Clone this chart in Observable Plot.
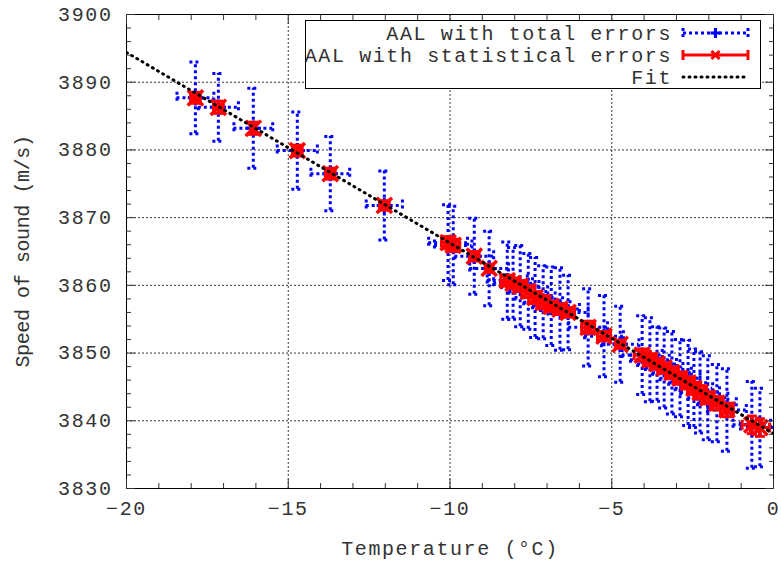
<!DOCTYPE html>
<html>
<head>
<meta charset="utf-8">
<script src="https://cdn.jsdelivr.net/npm/d3@7"></script>
<script src="https://cdn.jsdelivr.net/npm/@observablehq/plot@0.6"></script>
<style>
  html, body { margin: 0; padding: 0; background: #fff; }
  #wrap { position: relative; width: 781px; height: 562px; }
  #legend { position: absolute; left: 303px; top: 18px; overflow: visible; }
  g[aria-label="y-axis label"] text { letter-spacing: -0.4px; }
</style>
</head>
<body>
<div id="wrap"></div>
<script>
// ---- data ----
const temperature = [-17.87,-17.16,-16.08,-14.72,-13.70,-12.03,-10.06,-9.90,-9.25,-8.79,-8.23,-8.05,-7.83,-7.58,-7.37,-7.12,-6.87,-6.60,-6.35,-5.73,-5.24,-4.74,-4.06,-3.82,-3.60,-3.38,-3.14,-2.89,-2.64,-2.46,-2.27,-2.03,-1.75,-1.44,-0.67,-0.42];
const speed = [3887.7,3886.3,3883.2,3879.9,3876.5,3871.8,3866.3,3865.9,3864.3,3862.5,3860.7,3860.3,3859.9,3859.1,3858.2,3857.5,3856.9,3856.5,3856.0,3853.8,3852.5,3851.3,3849.7,3849.0,3848.4,3847.8,3847.1,3846.3,3845.6,3844.8,3844.2,3843.4,3842.6,3841.6,3839.4,3839.0];
const totalErrSpeed = [5.3,5.0,5.9,5.7,5.5,5.1,5.6,5.8,5.6,5.5,5.7,5.3,6.0,5.6,5.9,5.4,5.8,6.1,5.5,5.7,6.0,5.6,5.8,6.2,5.5,5.9,6.1,5.7,6.3,5.8,6.0,6.2,5.7,6.1,6.4,5.8];
const totalErrTemp = [0.57,0.62,0.6,0.62,0.6,0.56,0.6,0.58,0.6,0.6,0.62,0.6,0.58,0.6,0.62,0.6,0.58,0.6,0.62,0.6,0.6,0.58,0.62,0.6,0.6,0.58,0.6,0.62,0.6,0.58,0.6,0.62,0.6,0.6,0.58,0.6];
const statErrSpeed = [0.8,0.9,0.9,0.8,0.8,0.7,0.9,0.9,0.7,0.6,0.8,0.8,0.8,0.9,0.9,1.0,0.8,0.8,0.7,0.9,0.7,0.6,0.9,0.9,0.8,0.8,0.9,0.9,0.9,0.9,1.0,0.9,1.0,1.0,1.3,1.3];
const statErrTemp = [0.15,0.15,0.08,0.15,0.15,0.15,0.2,0.2,0.15,0.12,0.2,0.2,0.2,0.2,0.2,0.2,0.2,0.2,0.2,0.2,0.2,0.15,0.25,0.2,0.2,0.2,0.2,0.2,0.2,0.2,0.2,0.2,0.2,0.2,0.3,0.3];
const fitIntercept = 3838.1;   // speed at 0 °C
const fitSlope = -2.815;       // m/s per °C
const fitRange = [-20, 0];
const xTicks = [-20, -15, -10, -5, 0];
const yTicks = [3830, 3840, 3850, 3860, 3870, 3880, 3890, 3900];
const xMinor = d3.range(-20, 0.01, 1).filter(v => !xTicks.includes(v));
const yMinor = d3.range(3830, 3900.01, 2).filter(v => !yTicks.includes(v));
const legendLabels = ["AAL with total errors", "AAL with statistical errors", "Fit"];

// ---- build table ----
const data = temperature.map((t, i) => ({
  t, v: speed[i],
  ev: totalErrSpeed[i], et: totalErrTemp[i],
  sv: statErrSpeed[i], st: statErrTemp[i]
}));
const fit = fitRange.map(t => ({t, v: fitIntercept + fitSlope * t}));

const BLUE = "#0000ff", RED = "#ff0000";
const hcap = {draw(ctx, size) { const w = Math.sqrt(size / Math.PI); ctx.moveTo(-w, 0); ctx.lineTo(w, 0); }};
const vcap = {draw(ctx, size) { const w = Math.sqrt(size / Math.PI); ctx.moveTo(0, -w); ctx.lineTo(0, w); }};

const noText = () => "";
const chart = Plot.plot({
  width: 781, height: 562,
  marginLeft: 126, marginRight: 8, marginTop: 14, marginBottom: 74,
  style: {fontFamily: "'Liberation Mono', monospace", fontSize: "20px", color: "#333", background: "#fff", letterSpacing: "1.6px"},
  x: {domain: [-20, 0]},
  y: {domain: [3830, 3900]},
  marks: [
    Plot.gridX({ticks: xTicks.slice(1, -1), stroke: "#222", strokeOpacity: 0.9, strokeDasharray: "2,2"}),
    Plot.gridY({ticks: yTicks.slice(1, -1), stroke: "#222", strokeOpacity: 0.9, strokeDasharray: "2,2"}),
    // total errors (blue, dotted)
    Plot.ruleX(data, {x: "t", y1: d => d.v - d.ev, y2: d => d.v + d.ev, stroke: BLUE, strokeWidth: 3, strokeDasharray: "3,3", clip: true}),
    Plot.ruleY(data, {y: "v", x1: d => d.t - d.et, x2: d => d.t + d.et, stroke: BLUE, strokeWidth: 3, strokeDasharray: "3,3", clip: true}),
    Plot.dot(data, {x: "t", y: d => d.v - d.ev, symbol: hcap, r: 6, stroke: BLUE, strokeWidth: 3, strokeDasharray: "3,3", clip: true}),
    Plot.dot(data, {x: "t", y: d => d.v + d.ev, symbol: hcap, r: 6, stroke: BLUE, strokeWidth: 3, strokeDasharray: "3,3", clip: true}),
    Plot.dot(data, {x: d => d.t - d.et, y: "v", symbol: vcap, r: 6, stroke: BLUE, strokeWidth: 3, strokeDasharray: "3,3", clip: true}),
    Plot.dot(data, {x: d => d.t + d.et, y: "v", symbol: vcap, r: 6, stroke: BLUE, strokeWidth: 3, strokeDasharray: "3,3", clip: true}),
    Plot.dot(data, {x: "t", y: "v", symbol: "plus", r: 5, stroke: BLUE, strokeWidth: 3}),
    // statistical errors (red, solid)
    Plot.ruleX(data, {x: "t", y1: d => d.v - d.sv, y2: d => d.v + d.sv, stroke: RED, strokeWidth: 3}),
    Plot.ruleY(data, {y: "v", x1: d => d.t - d.st, x2: d => d.t + d.st, stroke: RED, strokeWidth: 3}),
    Plot.dot(data, {x: "t", y: d => d.v - d.sv, symbol: hcap, r: 5, stroke: RED, strokeWidth: 3}),
    Plot.dot(data, {x: "t", y: d => d.v + d.sv, symbol: hcap, r: 5, stroke: RED, strokeWidth: 3}),
    Plot.dot(data, {x: d => d.t - d.st, y: "v", symbol: vcap, r: 5, stroke: RED, strokeWidth: 3}),
    Plot.dot(data, {x: d => d.t + d.st, y: "v", symbol: vcap, r: 5, stroke: RED, strokeWidth: 3}),
    Plot.dot(data, {x: "t", y: "v", symbol: "times", r: 7, stroke: RED, strokeWidth: 3.5}),
    // fit
    Plot.line(fit, {x: "t", y: "v", stroke: "#000", strokeWidth: 3, strokeDasharray: "1,5", strokeLinecap: "round", clip: true}),
    Plot.frame({stroke: "#000", strokeWidth: 1}),
    // ticks (inward, mirrored)
    Plot.axisX({anchor: "bottom", ticks: xTicks, tickSize: 0, tickPadding: 12, label: "Temperature (°C)", labelAnchor: "center", labelOffset: 66, labelArrow: "none", fill: "#333"}),
    Plot.axisX({anchor: "bottom", ticks: xTicks, tickSize: -9, tickFormat: noText, label: null}),
    Plot.axisX({anchor: "bottom", ticks: xMinor, tickSize: -5, tickFormat: noText, label: null}),
    Plot.axisX({anchor: "top", ticks: xTicks, tickSize: -9, tickFormat: noText, label: null}),
    Plot.axisX({anchor: "top", ticks: xMinor, tickSize: -5, tickFormat: noText, label: null}),
    Plot.axisY({anchor: "left", ticks: yTicks, tickSize: 0, tickPadding: 14, tickFormat: d => String(d), label: "Speed of sound (m/s)", labelAnchor: "center", labelOffset: 112, labelArrow: "none", fill: "#333"}),
    Plot.axisY({anchor: "left", ticks: yTicks, tickSize: -9, tickFormat: noText, label: null}),
    Plot.axisY({anchor: "left", ticks: yMinor, tickSize: -5, tickFormat: noText, label: null}),
    Plot.axisY({anchor: "right", ticks: yTicks, tickSize: -9, tickFormat: noText, label: null}),
    Plot.axisY({anchor: "right", ticks: yMinor, tickSize: -5, tickFormat: noText, label: null})
  ]
});
document.getElementById("wrap").appendChild(chart);

// ---- legend (inside plot, top right) ----
const lw = 455, lh = 68, pad = 2;
const leg = d3.select("#wrap").append("svg").attr("id", "legend")
  .attr("width", lw + 2 * pad + 1).attr("height", lh + 2 * pad + 1)
  .style("font-family", "'Liberation Mono', monospace").style("font-size", "20px").style("letter-spacing", "1.6px");
const g = leg.append("g").attr("transform", `translate(${pad},${pad})`);
g.append("rect").attr("x", 0.5).attr("y", 0.5).attr("width", lw).attr("height", lh)
  .attr("fill", "#fff").attr("stroke", "#000");
const rowY = [13, 35, 57];
legendLabels.forEach((s, i) => {
  g.append("text").attr("x", 367).attr("y", rowY[i]).attr("dy", "0.35em")
    .attr("text-anchor", "end").attr("fill", "#333").text(s);
});
const sx1 = 378, sx2 = 443, smid = (sx1 + sx2) / 2;
// blue sample
g.append("line").attr("x1", sx1).attr("x2", sx2).attr("y1", rowY[0]).attr("y2", rowY[0])
  .attr("stroke", BLUE).attr("stroke-width", 3).attr("stroke-dasharray", "3,3");
[sx1, sx2].forEach(x => g.append("line").attr("x1", x).attr("x2", x).attr("y1", rowY[0] - 5).attr("y2", rowY[0] + 5)
  .attr("stroke", BLUE).attr("stroke-width", 3).attr("stroke-dasharray", "3,3"));
g.append("path").attr("d", `M${smid - 5},${rowY[0]}h10M${smid},${rowY[0] - 5}v10`).attr("stroke", BLUE).attr("stroke-width", 3);
// red sample
g.append("line").attr("x1", sx1).attr("x2", sx2).attr("y1", rowY[1]).attr("y2", rowY[1])
  .attr("stroke", RED).attr("stroke-width", 3);
[sx1, sx2].forEach(x => g.append("line").attr("x1", x).attr("x2", x).attr("y1", rowY[1] - 5).attr("y2", rowY[1] + 5)
  .attr("stroke", RED).attr("stroke-width", 3));
g.append("path").attr("d", `M${smid - 4},${rowY[1] - 4}l8,8M${smid - 4},${rowY[1] + 4}l8,-8`).attr("stroke", RED).attr("stroke-width", 3);
// fit sample
g.append("line").attr("x1", sx1).attr("x2", sx2).attr("y1", rowY[2]).attr("y2", rowY[2])
  .attr("stroke", "#000").attr("stroke-width", 3).attr("stroke-dasharray", "1,5").attr("stroke-linecap", "round");
</script>
</body>
</html>
